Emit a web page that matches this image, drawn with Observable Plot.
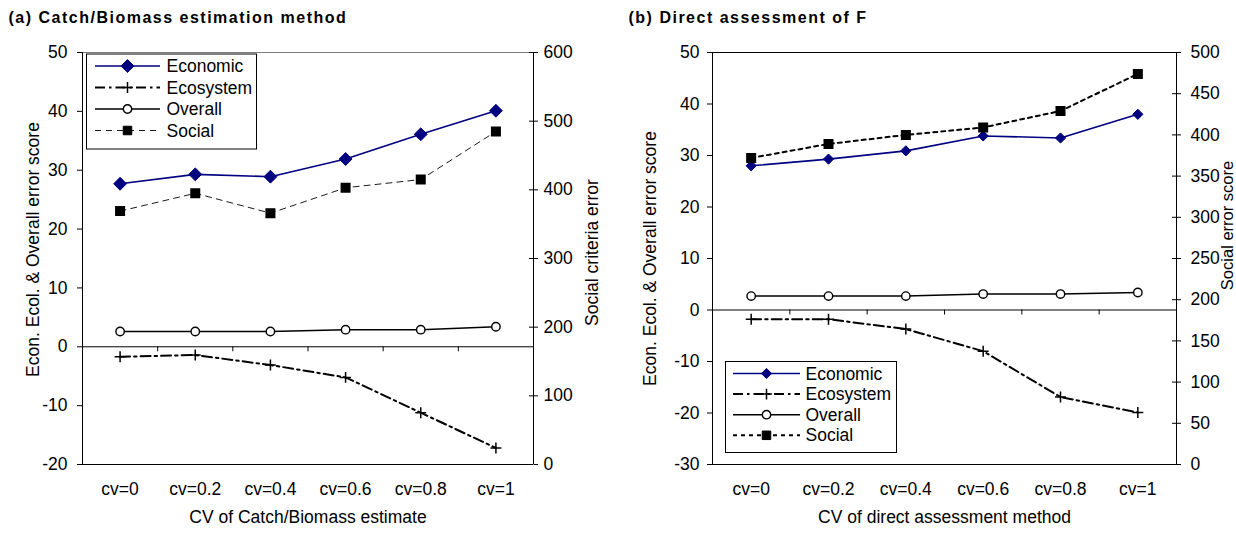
<!DOCTYPE html>
<html><head><meta charset="utf-8">
<script src="https://cdn.jsdelivr.net/npm/d3@7"></script>
<script src="https://cdn.jsdelivr.net/npm/@observablehq/plot@0.6"></script>
<style>
body{margin:0;background:#fff;font-family:"Liberation Sans",Arial,sans-serif;}
#root{position:relative;width:1236px;height:536px;overflow:hidden;background:#fff;}
.title{position:absolute;top:10px;font-weight:bold;font-size:16px;line-height:16px;letter-spacing:1.5px;white-space:nowrap;color:#000;}
.layer{position:absolute;top:30px;}
.layer svg{overflow:visible;}
.legend{position:absolute;left:0;top:0;overflow:visible;}
</style></head><body><div id="root"></div>
<script>
const categories = ["cv=0","cv=0.2","cv=0.4","cv=0.6","cv=0.8","cv=1"];
const seriesNames = ["Economic","Ecosystem","Overall","Social"];
// (a) Catch/Biomass estimation method
const aEconomic  = [27.7, 29.3, 28.9, 31.9, 36.1, 40.1];
const aEcosystem = [-1.7, -1.4, -3.1, -5.2, -11.2, -17.2];
const aOverall   = [2.6, 2.6, 2.6, 2.9, 2.9, 3.4];
const aSocial    = [369, 395, 366, 403, 415, 485];
// (b) Direct assessment of F
const bEconomic  = [28.0, 29.3, 30.9, 33.8, 33.4, 38.0];
const bEcosystem = [-1.8, -1.8, -3.7, -8.0, -16.9, -19.9];
const bOverall   = [2.7, 2.7, 2.7, 3.1, 3.1, 3.4];
const bSocial    = [372, 389, 400, 409, 429, 474];
const aLeftTicks  = [-20,-10,0,10,20,30,40,50];
const aRightTicks = [0,100,200,300,400,500,600];
const bLeftTicks  = [-30,-20,-10,0,10,20,30,40,50];
const bRightTicks = [0,50,100,150,200,250,300,350,400,450,500];

const FONT = "Liberation Sans, Arial, sans-serif";
const NAVY = "#000080";
const root = document.getElementById("root");

function panel(cfg) {
  const W = 618, H = 506;
  const idx = d3.range(categories.length);
  const bounds = idx.slice(1).map(i => i - 0.5);
  const xDom = [-0.5, categories.length - 0.5];
  const rows = idx.map(i => ({i, economic: cfg.eco[i], ecosystem: cfg.ecosys[i], overall: cfg.over[i], social: cfg.soc[i]}));
  const common = {
    width: W, height: H, marginLeft: cfg.mL, marginRight: cfg.mR, marginTop: 22, marginBottom: 72,
    style: {fontFamily: FONT, fontSize: "17.5px", color: "#000", background: "transparent", overflow: "visible"},
    x: {domain: xDom, axis: null}
  };
  const main = Plot.plot({
    ...common,
    y: {domain: cfg.leftDomain, axis: null},
    marks: [
      Plot.frame({stroke: cfg.topColor}),
      Plot.ruleY([cfg.leftDomain[0]], {stroke: "#000"}),
      Plot.ruleX(xDom, {stroke: "#000"}),
      Plot.ruleY([0], {stroke: "#000"}),
      Plot.ruleX(bounds, {x: d => d, y1: 0, y2: 0, insetBottom: -5, stroke: "#000"}),
      Plot.axisY({ticks: cfg.leftTicks, tickSize: 5, tickPadding: cfg.lPad, tickFormat: d => String(d), label: null, stroke: "#000"}),
      Plot.axisX({ticks: idx, tickSize: 0, tickPadding: 18, tickFormat: i => categories[i], label: null}),
      Plot.text([cfg.xLabel], {frameAnchor: "bottom", dy: 58, fill: "#000"}),
      Plot.text([cfg.leftLabel], {frameAnchor: "left", textAnchor: "middle", rotate: -90, dx: cfg.llDx, dy: cfg.llDy, fill: "#000"}),
      Plot.line(rows, {x: "i", y: "overall", stroke: "#000", strokeWidth: 1.5}),
      Plot.dot(rows, {x: "i", y: "overall", symbol: "circle", r: 4.2, fill: "#fff", stroke: "#000", strokeWidth: 1.4}),
      Plot.line(rows, {x: "i", y: "ecosystem", stroke: "#000", strokeWidth: 2, strokeDasharray: "10,4,2.5,4"}),
      Plot.dot(rows, {x: "i", y: "ecosystem", symbol: "plus", r: 3.6, stroke: "#000", strokeWidth: 1.5}),
      Plot.line(rows, {x: "i", y: "economic", stroke: NAVY, strokeWidth: 1.6}),
      Plot.dot(rows, {x: "i", y: "economic", symbol: "diamond2", r: cfg.diaR, fill: NAVY, stroke: NAVY, strokeWidth: 1})
    ]
  });
  const second = Plot.plot({
    ...common,
    y: {domain: cfg.rightDomain, axis: null},
    marks: [
      Plot.axisY({anchor: "right", ticks: cfg.rightTicks, tickSize: 4, tickPadding: cfg.rPad, tickFormat: d => String(d), label: null}),
      Plot.ruleY(cfg.rightTicks, {y: d => d, x1: xDom[1], x2: xDom[1], insetLeft: -4, stroke: "#000"}),
      Plot.text([cfg.rightLabel], {frameAnchor: "right", textAnchor: "middle", rotate: -90, dx: cfg.rlDx, dy: cfg.rlDy, fill: "#000", fontSize: cfg.rlSize}),
      Plot.line(rows, {x: "i", y: "social", stroke: "#000", strokeWidth: cfg.socW, strokeDasharray: cfg.socDash}),
      Plot.dot(rows, {x: "i", y: "social", symbol: "square", r: cfg.sqR, fill: "#000", stroke: "#000"})
    ]
  });
  for (const svg of [main, second]) {
    const div = document.createElement("div");
    div.className = "layer";
    div.style.left = cfg.left + "px";
    div.appendChild(svg);
    root.appendChild(div);
  }
  const t = document.createElement("div");
  t.className = "title";
  t.style.left = (cfg.left + cfg.titleX) + "px";
  t.textContent = cfg.title;
  root.appendChild(t);

  // legend box (inside plot area)
  const L = cfg.legend;
  const svg = d3.select(root).append("svg").attr("class", "legend")
    .attr("width", 1236).attr("height", 536);
  svg.append("rect").attr("x", L.x).attr("y", L.y).attr("width", L.w).attr("height", L.h)
    .attr("fill", "#fff").attr("stroke", "#000").attr("stroke-width", 1);
  const styles = [
    {stroke: NAVY, w: 1.6, dash: null, sym: d3.symbolDiamond2, size: Math.PI * cfg.diaR * cfg.diaR, fill: NAVY, sw: 1},
    {stroke: "#000", w: 2, dash: "10,4,2.5,4", sym: d3.symbolPlus, size: Math.PI * 3.6 * 3.6, fill: "none", sw: 1.5},
    {stroke: "#000", w: 1.5, dash: null, sym: d3.symbolCircle, size: Math.PI * 4.2 * 4.2, fill: "#fff", sw: 1.4},
    {stroke: "#000", w: cfg.socW, dash: cfg.socDash, sym: d3.symbolSquare, size: Math.PI * cfg.sqR * cfg.sqR, fill: "#000", sw: 1}
  ];
  seriesNames.forEach((name, k) => {
    const s = styles[k];
    const y = L.y + L.row0 + k * L.dy;
    svg.append("line").attr("x1", L.x + L.lx0).attr("x2", L.x + L.lx1).attr("y1", y).attr("y2", y)
      .attr("stroke", s.stroke).attr("stroke-width", s.w).attr("stroke-dasharray", s.dash);
    svg.append("path").attr("d", d3.symbol(s.sym, s.size)())
      .attr("transform", `translate(${L.x + (L.lx0 + L.lx1) / 2},${y})`)
      .attr("fill", s.fill).attr("stroke", s.stroke).attr("stroke-width", s.sw);
    svg.append("text").attr("x", L.x + L.tx).attr("y", y).attr("dy", "0.35em")
      .attr("font-family", FONT).attr("font-size", "17.5px").attr("fill", "#000").text(name);
  });
}

panel({
  left: 0, mL: 82, mR: 85, title: "(a) Catch/Biomass estimation method", titleX: 8.5,
  leftDomain: [-20, 50], rightDomain: [0, 600], leftTicks: aLeftTicks, rightTicks: aRightTicks,
  eco: aEconomic, ecosys: aEcosystem, over: aOverall, soc: aSocial,
  topColor: "#808080", lPad: 10, rPad: 6, diaR: 5.8, sqR: 4.8, socW: 0.9, socDash: "6,5",
  xLabel: "CV of Catch/Biomass estimate",
  leftLabel: "Econ. Ecol. & Overall error score", llDx: -49, llDy: -9,
  rightLabel: "Social criteria error", rlDx: 59, rlDy: -6, rlSize: 17.5,
  legend: {x: 86.5, y: 54, w: 170, h: 95, row0: 12, dy: 21.5, lx0: 8.5, lx1: 73.5, tx: 80}
});
panel({
  left: 618, mL: 94, mR: 60, title: "(b) Direct assessment of F", titleX: 10.5,
  leftDomain: [-30, 50], rightDomain: [0, 500], leftTicks: bLeftTicks, rightTicks: bRightTicks,
  eco: bEconomic, ecosys: bEcosystem, over: bOverall, soc: bSocial,
  topColor: "#000", lPad: 8, rPad: 10, diaR: 4.6, sqR: 4.8, socW: 2, socDash: "4,4",
  xLabel: "CV of direct assessment method",
  leftLabel: "Econ. Ecol. & Overall error score", llDx: -62, llDy: 0,
  rightLabel: "Social error score", rlDx: 51, rlDy: -33, rlSize: 16.5,
  legend: {x: 725.5, y: 361.5, w: 171, h: 91, row0: 12, dy: 20.6, lx0: 7.5, lx1: 74.5, tx: 80}
});
</script></body></html>
